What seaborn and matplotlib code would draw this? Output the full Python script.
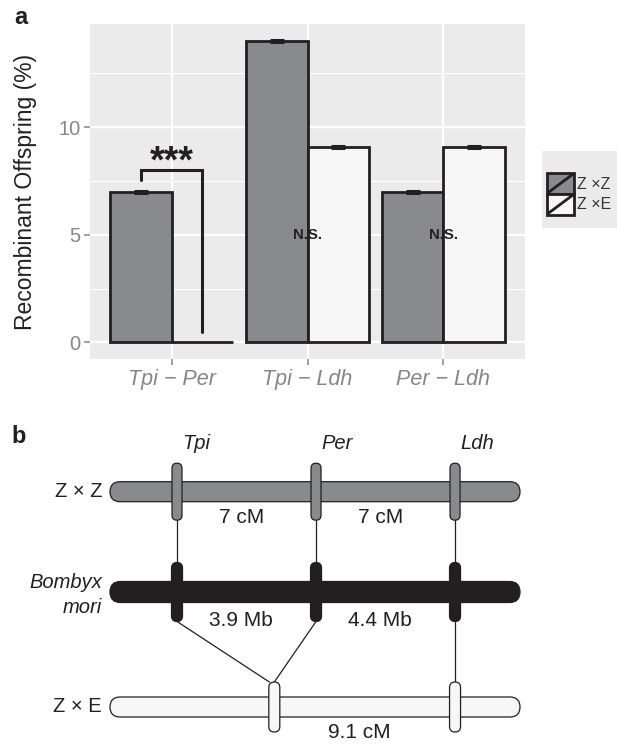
import numpy as np
import pandas as pd
import matplotlib
matplotlib.use("Agg")
import matplotlib.pyplot as plt
import seaborn as sns
from matplotlib.patches import FancyBboxPatch, Rectangle
from matplotlib.lines import Line2D
from matplotlib.legend_handler import HandlerBase
from matplotlib.patches import Patch

# ---------------- data ----------------
intervals = ["Tpi \u2212 Per", "Tpi \u2212 Ldh", "Per \u2212 Ldh"]
crosses = ["Z \u00d7Z", "Z \u00d7E"]
zz_values = [7.0, 14.0, 7.0]
ze_values = [0.0, 9.1, 9.1]
zz_err = [0.05, 0.05, 0.05]
ze_err = [0.0, 0.05, 0.05]
sig_labels = ["***", "N.S.", "N.S."]
y_ticks = [0, 5, 10]

genes = ["Tpi", "Per", "Ldh"]
zz_map_cM = [0.0, 7.0, 14.0]
ze_map_cM = [4.9, 4.9, 14.0]
bm_intervals_Mb = [3.9, 4.4]
row_labels = ["Z \u00d7 Z", "Bombyx\nmori", "Z \u00d7 E"]

# ---------------- style ----------------
W, H = 617, 746
DPI = 100
dark = "#231f20"
zz_col = "#898a8c"
ze_col = "#f7f7f7"
tick_col = "#868686"
font = ["Liberation Sans", "DejaVu Sans"]

sns.set_theme(style="white")
plt.rcParams["font.family"] = font

fig = plt.figure(figsize=(W / DPI, H / DPI), dpi=DPI)

def px_box(l, t, r, b):
    return [l / W, 1 - b / H, (r - l) / W, (b - t) / H]

# ---------------- panel a ----------------
ax = fig.add_axes(px_box(90, 24, 525, 359))
df = pd.DataFrame({
    "interval": intervals * 2,
    "cross": [crosses[0]] * len(intervals) + [crosses[1]] * len(intervals),
    "value": zz_values + ze_values,
})
sns.barplot(data=df, x="interval", y="value", hue="cross", hue_order=crosses,
            palette=[zz_col, ze_col], saturation=1, width=0.9, gap=0,
            edgecolor=dark, linewidth=2.0, errorbar=None, legend=False, ax=ax,
            zorder=3)
ax.set_facecolor("#ebebeb")
for s in ax.spines.values():
    s.set_visible(False)
ax.set_ylim(-0.77, 14.8)
ax.set_xlim(-0.6, 2.6)
ax.set_yticks(y_ticks)
ax.set_yticks([2.5, 7.5, 12.5], minor=True)
ax.grid(axis="y", which="major", color="white", lw=1.6, zorder=0)
ax.grid(axis="y", which="minor", color="white", lw=0.8, zorder=0)
ax.grid(axis="x", which="major", color="white", lw=1.6, zorder=0)
ax.set_axisbelow(True)
ax.tick_params(axis="both", which="major", length=4, width=1.1, color=tick_col,
               labelcolor=tick_col, bottom=True, left=True, pad=3)
ax.tick_params(axis="y", which="minor", length=0, left=False)
ax.tick_params(axis="y", labelsize=14.5)
ax.tick_params(axis="x", labelsize=15.5)
for lab in ax.get_xticklabels():
    lab.set_fontstyle("italic")
ax.set_xlabel("")
ax.set_ylabel("Recombinant Offspring (%)", fontsize=16.5, color="#222222")
ax.yaxis.set_label_coords(-0.148, 0.5)
ax.yaxis.label.set_va("center")

# error bars
for cont, errs in zip(ax.containers, [zz_err, ze_err]):
    for bar, e in zip(cont, errs):
        if e > 0:
            ax.errorbar(bar.get_x() + bar.get_width() / 2, bar.get_height(), yerr=e,
                        color=dark, capsize=4.7, capthick=2.2, elinewidth=2.2,
                        fmt="none", zorder=4)

# significance annotations
for i, lab in enumerate(sig_labels):
    b0 = ax.containers[0][i]
    b1 = ax.containers[1][i]
    x0 = b0.get_x() + b0.get_width() / 2
    x1 = b1.get_x() + b1.get_width() / 2
    if lab == "***":
        top = max(zz_values[i], ze_values[i]) + 1.0
        ax.plot([x0, x0, x1, x1], [zz_values[i] + 0.55, top, top, ze_values[i] + 0.5],
                color=dark, lw=2.2, solid_joinstyle="miter", zorder=5)
        ax.text((x0 + x1) / 2, top - 0.1, lab, ha="center", va="baseline",
                fontsize=27, fontweight="bold", color=dark, zorder=5)
    else:
        ax.text(i, 5.0, lab, ha="center", va="center", fontsize=10.7,
                fontweight="bold", color=dark, zorder=5)

# legend
fig.patches.append(Rectangle((542 / W, 1 - 228 / H), (W - 542) / W, (228 - 151) / H,
                             transform=fig.transFigure, facecolor="#ebebeb",
                             edgecolor="none", zorder=0))


class KeyHandler(HandlerBase):
    def create_artists(self, legend, orig_handle, xdescent, ydescent, width,
                       height, fontsize, trans):
        r = Rectangle((-xdescent, -ydescent), width, height,
                      facecolor=orig_handle.get_facecolor(), edgecolor=dark,
                      lw=2, transform=trans)
        l = Line2D([-xdescent + 1, -xdescent + width - 1],
                   [-ydescent + 1, -ydescent + height - 1],
                   color=dark, lw=2, transform=trans)
        return [r, l]


handles = [Patch(facecolor=zz_col), Patch(facecolor=ze_col)]
fs_leg = 11.5
fs_px = fs_leg * DPI / 72
fig.legend(handles, crosses, loc="upper left", bbox_to_anchor=(547 / W, 1 - 173 / H),
           frameon=False, borderpad=0, borderaxespad=0, handlelength=27 / fs_px,
           handleheight=26 / fs_px, labelspacing=0, handletextpad=0.2,
           fontsize=fs_leg, labelcolor="#333333",
           handler_map={Patch: KeyHandler()})

# ---------------- panel b ----------------
scale = 19.86  # px per cM
x0px = 177.0
axb = fig.add_axes([0, 0, 1, 346 / H])
axb.set_xlim(-x0px / scale, (W - x0px) / scale)
axb.set_ylim(0, 346 / scale)
axb.axis("off")

def ypx(py):
    return (746 - py) / scale

rows_y = [ypx(491.7), ypx(592), ypx(707)]
chrom_l, chrom_r = (110 - x0px) / scale, (520 - x0px) / scale
row_fill = [zz_col, dark, ze_col]
bar_h = [20 / scale, 21 / scale, 20 / scale]
mk_w = [10 / scale, 11 / scale, 11 / scale]
mk_h = [57 / scale, 59 / scale, 50 / scale]
row_pos = [zz_map_cM, zz_map_cM, ze_map_cM]
lw_b = 0.9

for y, fill, bh, mw, mh, pos in zip(rows_y, row_fill, bar_h, mk_w, mk_h, row_pos):
    axb.add_patch(FancyBboxPatch((chrom_l, y - bh / 2), chrom_r - chrom_l, bh,
                                 boxstyle=f"round,pad=0,rounding_size={bh/2}",
                                 facecolor=fill, edgecolor=dark, lw=lw_b, zorder=2))
    for p in sorted(set(pos)):
        axb.add_patch(FancyBboxPatch((p - mw / 2, y - mh / 2), mw, mh,
                                     boxstyle=f"round,pad=0,rounding_size={mw/2}",
                                     facecolor=fill, edgecolor=dark, lw=lw_b, zorder=3))

# connectors
for g, pz, pe in zip(genes, zz_map_cM, ze_map_cM):
    axb.plot([pz, pz], [rows_y[0] - mk_h[0] / 2, rows_y[1] + mk_h[1] / 2],
             color=dark, lw=0.9, zorder=1)
    off = 0.0
    if pe != pz:
        off = -0.25 if pz < pe else 0.0
    axb.plot([pz, pe + off], [rows_y[1] - mk_h[1] / 2, rows_y[2] + mk_h[2] / 2],
             color=dark, lw=0.9, zorder=1)

# gene labels
for g, pz in zip(genes, zz_map_cM):
    axb.text(pz + 0.27, ypx(443), g, ha="left", va="center", fontsize=14.5,
             fontstyle="italic", color=dark)

# interval labels
for a, b in zip(zz_map_cM[:-1], zz_map_cM[1:]):
    axb.text((a + b) / 2 - 0.25, rows_y[0] - 26 / scale, f"{b - a:g} cM",
             ha="center", va="center", fontsize=15, color=dark)
for (a, b), mb in zip(zip(zz_map_cM[:-1], zz_map_cM[1:]), bm_intervals_Mb):
    axb.text((a + b) / 2 - 0.3, rows_y[1] - 28 / scale, f"{mb:g} Mb",
             ha="center", va="center", fontsize=15, color=dark)
ze_u = sorted(set(ze_map_cM))
for a, b in zip(ze_u[:-1], ze_u[1:]):
    axb.text((a + b) / 2 - 0.25, rows_y[2] - 26 / scale, f"{b - a:.1f} cM",
             ha="center", va="center", fontsize=15, color=dark)

# row labels
for lab, y in zip(row_labels, rows_y):
    style = "italic" if "\n" in lab else "normal"
    axb.text((102 - x0px) / scale, y - (0.15 if "\n" in lab else 0), lab,
             ha="right", va="center", fontsize=14.5, fontstyle=style,
             color=dark, linespacing=1.4)

# panel letters
fig.text(21 / W, 1 - 17 / H, "a", ha="center", va="center", fontsize=17,
         fontweight="bold", color=dark)
fig.text(19 / W, 1 - 437 / H, "b", ha="center", va="center", fontsize=17,
         fontweight="bold", color=dark)

fig.savefig("out.png", dpi=DPI)
